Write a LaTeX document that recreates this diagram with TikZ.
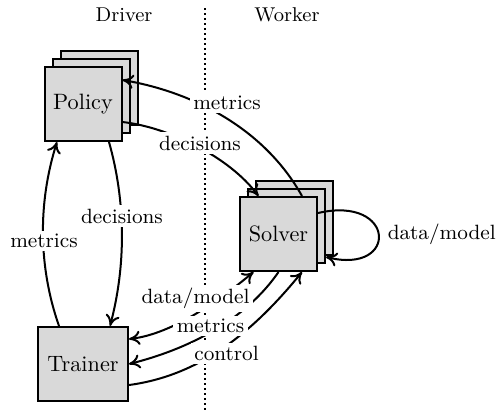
\documentclass[tikz,border=0pt]{standalone}
\usetikzlibrary{arrows.meta,calc}
\begin{document}
\begin{tikzpicture}[x=0.45pt,y=0.45pt,
  >={Computer Modern Rightarrow[length=5pt,width=6.4pt]},
  box/.style={draw,line width=0.9pt,fill=black!15,minimum width=34.65pt,
    minimum height=33.3pt,inner sep=0pt,font=\fontsize{10}{12}\selectfont},
  conn/.style={line width=0.9pt},
  lbl/.style={fill=white,inner sep=1.5pt,font=\fontsize{9.3}{11}\selectfont},
  hdr/.style={inner sep=0pt,font=\fontsize{9}{11}\selectfont},
  sep/.style={line width=0.9pt,dash pattern=on 0.9pt off 1.35pt}]
\useasboundingbox (0,0) rectangle (496,-411);
% boxes
\node[box] (policy3) at (99,-88) {};
\node[box] (policy2) at (91,-96) {};
\node[box] (policy) at (83,-104) {Policy};
\node[box] (solver3) at (294.5,-218) {};
\node[box] (solver2) at (286.5,-226) {};
\node[box] (solver) at (278.5,-234) {Solver};
\node[box,minimum width=40.5pt] (trainer) at (83,-364) {Trainer};
% headers
\node[hdr] (driver) at (124,-15) {Driver};
\node[hdr] (worker) at (287,-15) {Worker};
% separator
\coordinate (septop) at (205,-8);
\coordinate (sepbot) at (205,-411);
\draw[sep] (septop) -- (sepbot);
% connectors
\draw[conn,->] ($(policy.south)+(26,0)$) .. controls +(17,-60) and +(16,60) .. ($(trainer.north)+(27,0)$);
\draw[conn,->] ($(trainer.north)+(-24,0)$) .. controls +(-21,60) and +(-19,-60) .. ($(policy.south)+(-26,0)$);
\draw[conn,->] ($(solver.north)+(23.5,0)$) .. controls +(-38,68) and +(70,-12) .. ($(policy.east)+(0,24)$);
\draw[conn,->] ($(policy.east)+(0,-18)$) .. controls +(45,-5) and +(-30,40) .. ($(solver.north)+(-20,0)$);
\draw[conn,->] ($(solver.east)+(0,21)$) .. controls +(78,18) and +(73,-18) .. ($(solver2.east)+(0,-31)$);
\draw[conn,<->] ($(trainer.east)+(0,25)$) .. controls +(45,5) and +(-30,-25) .. ($(solver.south)+(-25,0)$);
\draw[conn,->] (solver.south) .. controls +(-40,-58) and +(40,10) .. (trainer.east);
\draw[conn,->] ($(trainer.east)+(0,-21)$) .. controls +(75,10) and +(-45,-55) .. ($(solver.south)+(23.5,0)$);
% labels
\node[lbl] (l1) at (122,-216) {decisions};
\node[lbl] (l2) at (44,-241) {metrics};
\node[lbl] (l3) at (227,-103) {metrics};
\node[lbl] (l4) at (200,-143) {decisions};
\node[lbl,anchor=west] (l5) at (384,-234) {data/model};
\node[lbl] (l6) at (195.5,-298.5) {data/model};
\node[lbl] (l7) at (210.5,-326) {metrics};
\node[lbl] (l8) at (226.5,-353.5) {control};
\end{tikzpicture}
\end{document}
